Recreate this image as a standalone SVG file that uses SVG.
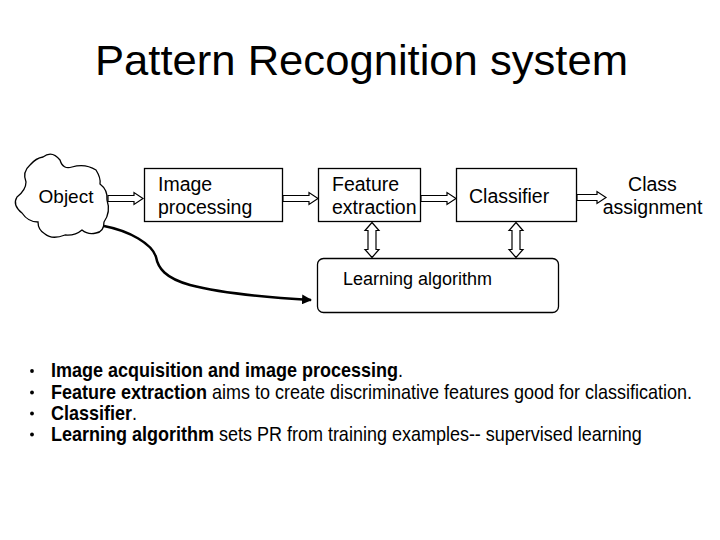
<svg xmlns="http://www.w3.org/2000/svg" width="720" height="540" viewBox="0 0 720 540">
<style>
text{font-family:"Liberation Sans",Arial,sans-serif;fill:#000}
.box{fill:#fff;stroke:#000;stroke-width:1.3}
.lbl{font-size:19.5px}
.arr{fill:#fff;stroke:#000;stroke-width:1.2;stroke-linejoin:miter}
.bul{font-size:20px}
.b{font-weight:bold}
</style>
<defs>
<marker id="ah" viewBox="0 0 10 10" refX="9" refY="5" markerWidth="4" markerHeight="4" orient="auto" markerUnits="strokeWidth">
<path d="M0,0 L10,5 L0,10 z" fill="#000"/>
</marker>
</defs>
<rect width="720" height="540" fill="#fff"/>
<text x="95" y="75" font-size="43" textLength="533" lengthAdjust="spacingAndGlyphs">Pattern Recognition system</text>

<g id="object">
<path class="box" d="M43,157 Q52,150 60,160 Q63,170 72,167 Q85,163 96,170 Q101,178 100,184 Q108,190 107,200 Q111,212 104,222 Q104,232 96,233 Q88,235 82,230 Q75,236 65,235 Q52,240 45,234 Q38,230 38,222 Q28,222 22,213 Q12,205 17,197 Q26,190 26,182 Q22,172 30,165 Q36,158 43,157 Z"/>
<text x="66" y="203" font-size="19" text-anchor="middle">Object</text>
</g>
<g id="image-processing">
<rect class="box" x="144.5" y="168.5" width="138" height="53"/>
<text class="lbl" x="158" y="191">Image</text>
<text class="lbl" x="158" y="214">processing</text>
</g>
<g id="feature-extraction">
<rect class="box" x="318.5" y="168.5" width="102" height="53"/>
<text class="lbl" x="332" y="191">Feature</text>
<text class="lbl" x="332" y="214">extraction</text>
</g>
<g id="classifier">
<rect class="box" x="456.5" y="168.5" width="120" height="53"/>
<text class="lbl" x="469" y="203">Classifier</text>
</g>
<g id="class-assignment">
<text class="lbl" x="652.5" y="191" text-anchor="middle">Class</text>
<text class="lbl" x="652.5" y="214" text-anchor="middle">assignment</text>
</g>
<g id="learning-algorithm">
<rect class="box" x="317.5" y="258.5" width="241" height="54" rx="6" ry="6"/>
<text x="343" y="285" font-size="18">Learning algorithm</text>
</g>

<g id="connectors">
<polygon class="arr" points="108,195.5 134,195.5 134,192.5 143,198.5 134,204.5 134,201.5 108,201.5"/>
<polygon class="arr" points="283,195.5 309,195.5 309,192.5 318,198.5 309,204.5 309,201.5 283,201.5"/>
<polygon class="arr" points="421,195.5 447,195.5 447,192.5 456,198.5 447,204.5 447,201.5 421,201.5"/>
<polygon class="arr" points="577,194.5 597,194.5 597,191.5 606,197.5 597,203.5 597,200.5 577,200.5"/>
<polygon class="arr" points="372,222.5 379,230.5 376,230.5 376,249.5 379,249.5 372,257.5 365,249.5 368,249.5 368,230.5 365,230.5"/>
<polygon class="arr" points="516,222.5 523,230.5 520,230.5 520,249.5 523,249.5 516,257.5 509,249.5 512,249.5 512,230.5 509,230.5"/>
<path d="M104,226 C130,231 152,244 156,257 C158,268 165,278 190,285 C220,293 260,297 311,300" fill="none" stroke="#000" stroke-width="2.5" marker-end="url(#ah)"/>
</g>

<g id="bullets">
<circle cx="32" cy="371" r="1.9"/>
<circle cx="32" cy="392.5" r="1.9"/>
<circle cx="32" cy="413.5" r="1.9"/>
<circle cx="32" cy="434.5" r="1.9"/>
<text class="bul" transform="matrix(0.9,0,0,1,51,377)"><tspan class="b">Image acquisition and image processing</tspan>.</text>
<text class="bul" transform="matrix(0.9,0,0,1,51,398.5)"><tspan class="b">Feature extraction</tspan> aims to create discriminative features good for classification.</text>
<text class="bul" transform="matrix(0.9,0,0,1,51,419.5)"><tspan class="b">Classifier</tspan>.</text>
<text class="bul" transform="matrix(0.9,0,0,1,51,440.5)"><tspan class="b">Learning algorithm</tspan> sets PR from training examples-- supervised learning</text>
</g>
</svg>
